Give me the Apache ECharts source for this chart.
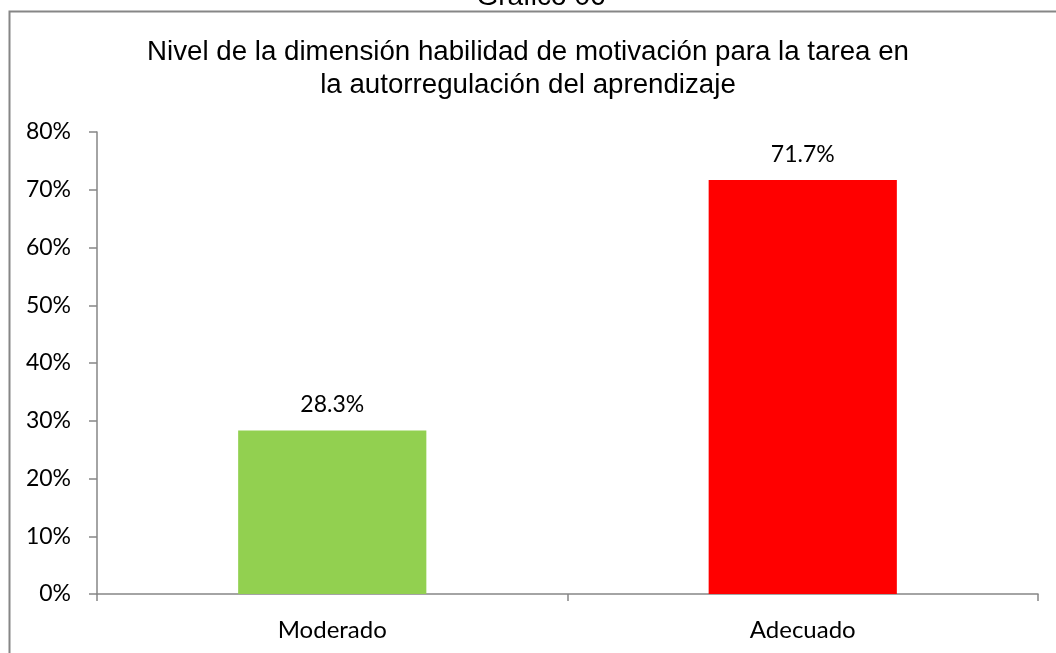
<!DOCTYPE html>
<html><head><meta charset="utf-8">
<script src="https://cdn.jsdelivr.net/npm/echarts@6/dist/echarts.min.js"></script>
<style>html,body{margin:0;padding:0;background:#fff}#c{width:1056px;height:653px}</style>
</head><body><div id="c"></div>
<script>
const categories = ["Moderado", "Adecuado"];
const values = [28.3, 71.7];
const barColors = ["#92D050", "#FF0000"];
const chartTitle = "Nivel de la dimensión habilidad de motivación para la tarea en\nla autorregulación del aprendizaje";
const topCaption = "Gráfico 06";

const chart = echarts.init(document.getElementById('c'));
chart.setOption({
  animation: false,
  graphic: [
    { type: 'rect', shape: { x: 9.5, y: 11.5, width: 1100, height: 700 }, style: { fill: 'none', stroke: '#868686', lineWidth: 2 } },
    { type: 'text', x: 541, y: -17, style: { text: topCaption, fontFamily: '"Liberation Sans", Arial', fontSize: 28, fill: '#000', textAlign: 'center', textVerticalAlign: 'top' } }
  ],
  title: {
    text: chartTitle,
    left: 'center', top: 31,
    textStyle: { fontFamily: '"Liberation Sans", Arial', fontSize: 27.7, fontWeight: 'normal', color: '#000', lineHeight: 33 }
  },
  grid: { left: 97, right: 18, top: 132, bottom: 59 },
  xAxis: {
    type: 'category', data: categories,
    axisLine: { lineStyle: { color: '#868686', width: 1.5 } },
    axisTick: { show: true, length: 7, inside: false, lineStyle: { color: '#868686', width: 1.5 } },
    axisLabel: { fontFamily: 'Lato', fontSize: 24, color: '#000', margin: 24 }
  },
  yAxis: {
    type: 'value', min: 0, max: 80, interval: 10,
    axisLine: { show: true, lineStyle: { color: '#868686', width: 1.5 } },
    axisTick: { show: true, length: 8, lineStyle: { color: '#868686', width: 1.5 } },
    splitLine: { show: false },
    axisLabel: { formatter: '{value}%', fontFamily: 'Lato', fontSize: 23, color: '#000', margin: 26 }
  },
  series: [{
    type: 'bar', barWidth: '40%',
    data: values.map((v, i) => ({ value: v, itemStyle: { color: barColors[i] } })),
    label: { show: true, position: 'top', distance: 14, formatter: p => p.value.toFixed(1) + '%', fontFamily: 'Lato', fontSize: 23, color: '#000' }
  }]
});
</script></body></html>
